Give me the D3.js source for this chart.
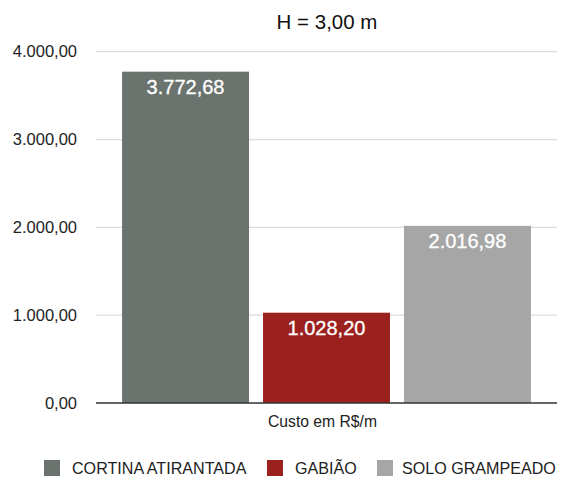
<!DOCTYPE html>
<html>
<head>
<meta charset="utf-8">
<script src="https://cdn.jsdelivr.net/npm/d3@7"></script>
<style>
  html, body { margin: 0; padding: 0; background: #fff; }
  text { font-family: "Liberation Sans", Arial, Helvetica, sans-serif; }
</style>
</head>
<body>
<svg id="chart" width="562" height="479"></svg>
<script>
const categories = ["CORTINA ATIRANTADA", "GABIÃO", "SOLO GRAMPEADO"];
const values = [3772.68, 1028.20, 2016.98];
const colors = ["#6b736e", "#9b211e", "#a6a6a6"];
const yTicks = [0, 1000, 2000, 3000, 4000];
const title = "H = 3,00 m";
const xTitle = "Custo em R$/m";

const fmt = v => {
  const s = v.toFixed(2).split(".");
  const int = s[0].replace(/\B(?=(\d{3})+(?!\d))/g, ".");
  return int + "," + s[1];
};

const svg = d3.select("#chart");
const mLeft = 96, mRight = 557, mTop = 51.7, mBottom = 403;

const y = d3.scaleLinear().domain([0, 4000]).range([mBottom, mTop]);
const x = d3.scaleBand().domain(categories).range([mLeft, mRight])
  .paddingInner(0.0993).paddingOuter(0.185);

// gridlines
svg.append("g").selectAll("line").data(yTicks.filter(d => d > 0)).join("line")
  .attr("x1", mLeft).attr("x2", mRight)
  .attr("y1", d => y(d)).attr("y2", d => y(d))
  .attr("stroke", "#dcdcdf").attr("stroke-width", 1.2);

// y axis labels
const yAxis = d3.axisLeft(y).tickValues(yTicks).tickFormat(fmt).tickSize(0).tickPadding(0);
const ga = svg.append("g").attr("transform", `translate(${77},0)`).call(yAxis);
ga.select(".domain").remove();
ga.selectAll("text").attr("font-size", 16.5).attr("fill", "#222").attr("font-family", null);

// bars
svg.append("g").selectAll("rect").data(values).join("rect")
  .attr("x", (d, i) => x(categories[i]))
  .attr("width", x.bandwidth())
  .attr("y", d => y(d))
  .attr("height", d => y(0) - y(d))
  .attr("fill", (d, i) => colors[i]);

// value labels
svg.append("g").selectAll("text").data(values).join("text")
  .attr("x", (d, i) => x(categories[i]) + x.bandwidth() / 2)
  .attr("y", d => y(d) + 22.5)
  .attr("text-anchor", "middle")
  .attr("font-size", 20)
  .attr("fill", "#fff")
  .attr("stroke", "#fff").attr("stroke-width", 0.3)
  .text(fmt);

// baseline
svg.append("line")
  .attr("x1", mLeft).attr("x2", mRight)
  .attr("y1", y(0)).attr("y2", y(0))
  .attr("stroke", "#333").attr("stroke-width", 1.3);

// title
svg.append("text").attr("x", 327).attr("y", 28.5)
  .attr("text-anchor", "middle").attr("font-size", 20.5).attr("fill", "#111")
  .text(title);

// x title
svg.append("text").attr("x", 322.5).attr("y", 426.5)
  .attr("text-anchor", "middle").attr("font-size", 15.7).attr("fill", "#222")
  .text(xTitle);

// legend
const legendX = [44, 267, 377];
const lg = svg.append("g").selectAll("g").data(categories).join("g")
  .attr("transform", (d, i) => `translate(${legendX[i]},460)`);
lg.append("rect").attr("width", 16).attr("height", 16).attr("fill", (d, i) => colors[i]);
lg.append("text").attr("x", (d, i) => [28, 28, 25][i]).attr("y", 13.5).attr("font-size", 16.1).attr("fill", "#222").text(d => d);
</script>
</body>
</html>
